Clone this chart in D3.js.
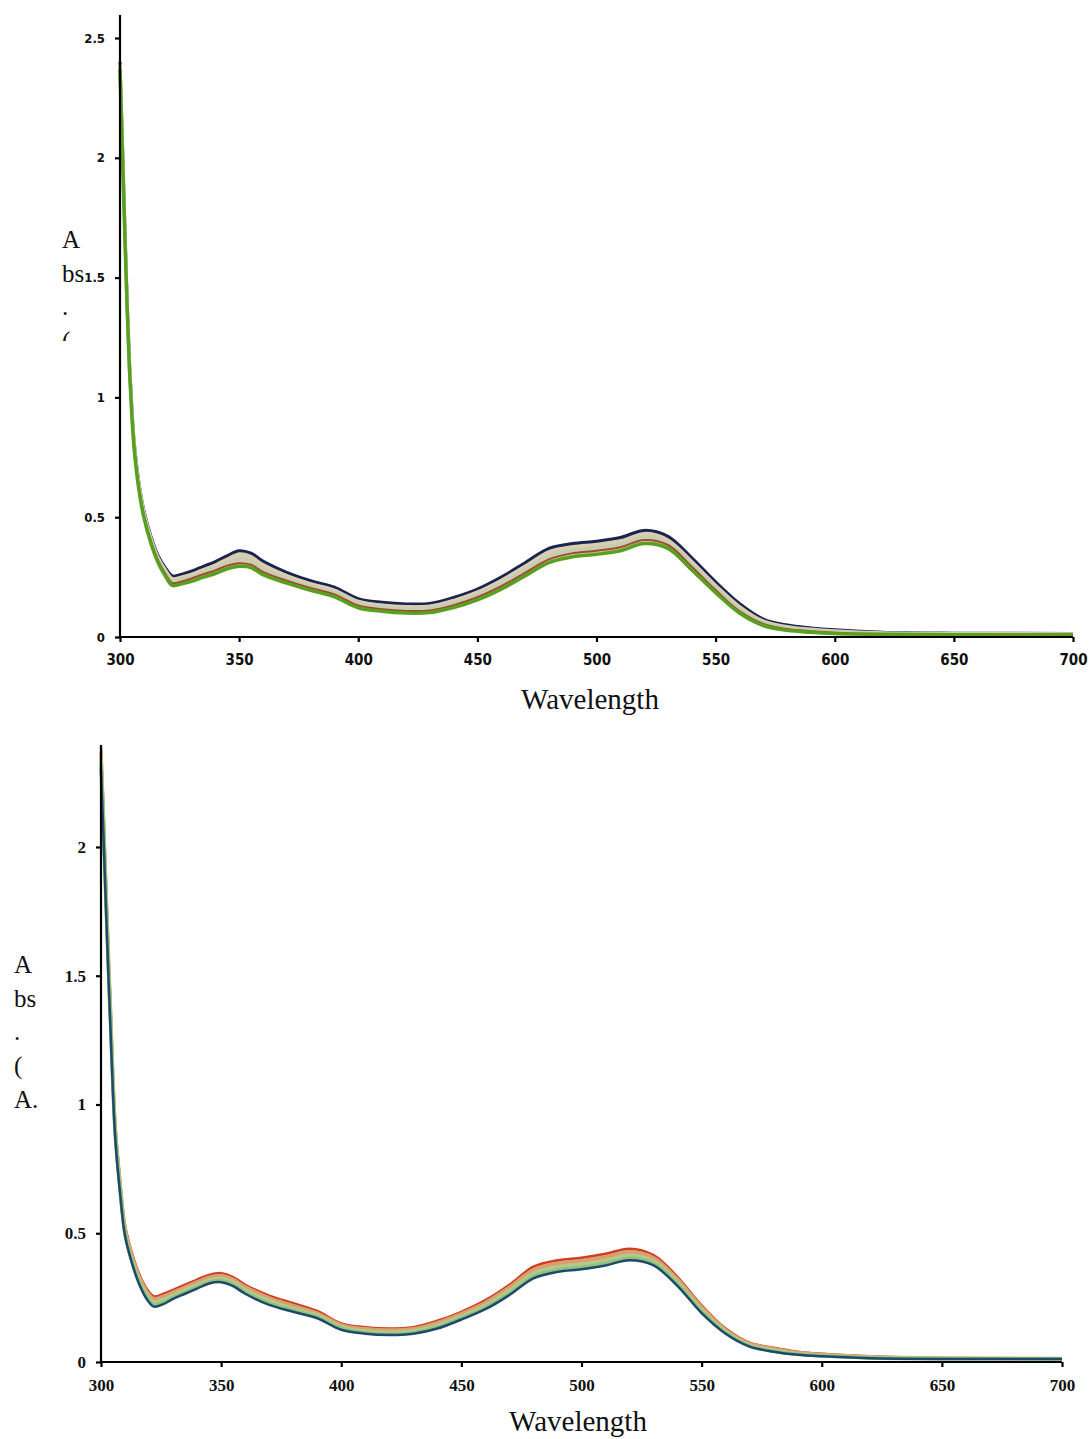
<!DOCTYPE html>
<html>
<head>
<meta charset="utf-8">
<script src="https://cdn.jsdelivr.net/npm/d3@7"></script>
<style>
  body { margin: 0; background: #fff; }
  svg { display: block; }
</style>
</head>
<body>
<div id="chart"></div>
<script>
// wavelength grid shared by all spectra (nm)
var wl = [300,301,302,303,304,305,306,308,310,313,316,319,322,326,330,335,340,345,350,355,360,370,380,390,400,410,420,430,440,450,460,470,480,490,500,510,520,530,540,550,560,570,580,590,600,620,650,700];

// top panel spectra, upper edge to lower edge
var tDark = [2.40,2.06,1.72,1.40,1.14,0.95,0.81,0.64,0.53,0.42,0.34,0.29,0.255,0.262,0.275,0.295,0.315,0.34,0.36,0.35,0.317,0.27,0.235,0.208,0.16,0.145,0.138,0.14,0.165,0.20,0.25,0.31,0.37,0.39,0.40,0.415,0.445,0.42,0.33,0.23,0.14,0.075,0.05,0.038,0.03,0.02,0.016,0.015];
var tTan = [2.39,2.05,1.71,1.39,1.13,0.94,0.80,0.63,0.52,0.41,0.33,0.28,0.243,0.25,0.26,0.28,0.298,0.322,0.34,0.332,0.298,0.255,0.222,0.195,0.148,0.133,0.126,0.128,0.152,0.187,0.236,0.294,0.352,0.373,0.383,0.397,0.427,0.403,0.314,0.215,0.127,0.066,0.043,0.032,0.025,0.017,0.014,0.013];
var tGray = [2.385,2.045,1.705,1.385,1.125,0.935,0.795,0.625,0.515,0.405,0.325,0.272,0.234,0.241,0.252,0.271,0.288,0.31,0.324,0.317,0.285,0.245,0.213,0.186,0.14,0.124,0.117,0.12,0.142,0.176,0.224,0.281,0.338,0.361,0.371,0.386,0.416,0.393,0.303,0.205,0.117,0.06,0.038,0.028,0.021,0.015,0.012,0.011];
var tRed = [2.38,2.04,1.70,1.38,1.12,0.93,0.79,0.62,0.51,0.40,0.32,0.265,0.225,0.232,0.244,0.262,0.278,0.298,0.308,0.302,0.272,0.235,0.205,0.178,0.132,0.116,0.109,0.111,0.133,0.166,0.212,0.268,0.324,0.35,0.36,0.375,0.405,0.384,0.293,0.196,0.108,0.055,0.033,0.024,0.018,0.013,0.011,0.01];
var tGreen = [2.37,2.03,1.69,1.37,1.11,0.92,0.78,0.61,0.50,0.39,0.31,0.255,0.215,0.222,0.232,0.25,0.265,0.285,0.295,0.29,0.26,0.225,0.195,0.168,0.122,0.107,0.10,0.102,0.123,0.155,0.20,0.255,0.31,0.335,0.345,0.36,0.39,0.37,0.28,0.185,0.10,0.048,0.028,0.02,0.015,0.011,0.009,0.008];

// bottom panel spectra, upper edge to lower edge
var bRed = [2.39,2.15,1.88,1.62,1.38,1.12,0.92,0.70,0.53,0.42,0.34,0.285,0.255,0.265,0.28,0.30,0.32,0.338,0.345,0.33,0.30,0.258,0.228,0.198,0.15,0.135,0.13,0.135,0.16,0.195,0.24,0.30,0.37,0.395,0.405,0.42,0.44,0.415,0.33,0.22,0.13,0.075,0.055,0.04,0.032,0.022,0.016,0.015];
var bOrange = [2.37,2.13,1.86,1.60,1.36,1.10,0.90,0.69,0.52,0.41,0.33,0.276,0.246,0.256,0.271,0.291,0.311,0.329,0.336,0.321,0.292,0.249,0.219,0.19,0.144,0.129,0.124,0.129,0.153,0.188,0.231,0.29,0.358,0.383,0.393,0.408,0.428,0.405,0.321,0.213,0.125,0.072,0.052,0.037,0.03,0.02,0.015,0.014];
var bKhaki = [2.35,2.10,1.83,1.57,1.33,1.08,0.89,0.675,0.505,0.395,0.315,0.262,0.232,0.242,0.26,0.28,0.30,0.318,0.325,0.31,0.28,0.238,0.208,0.182,0.136,0.12,0.115,0.12,0.143,0.178,0.22,0.277,0.343,0.368,0.378,0.393,0.413,0.392,0.31,0.203,0.118,0.066,0.046,0.033,0.026,0.018,0.014,0.013];
var bGreen = [2.32,2.07,1.80,1.54,1.30,1.06,0.87,0.66,0.497,0.387,0.307,0.252,0.222,0.232,0.251,0.271,0.291,0.31,0.316,0.301,0.271,0.229,0.2,0.175,0.13,0.114,0.109,0.114,0.135,0.17,0.211,0.267,0.333,0.358,0.368,0.383,0.403,0.383,0.302,0.196,0.113,0.062,0.042,0.03,0.024,0.016,0.013,0.012];
var bBlue = [2.30,2.05,1.78,1.52,1.28,1.04,0.86,0.65,0.49,0.38,0.30,0.245,0.215,0.225,0.245,0.265,0.285,0.305,0.31,0.295,0.265,0.222,0.195,0.17,0.125,0.11,0.105,0.11,0.13,0.165,0.205,0.26,0.325,0.35,0.36,0.375,0.395,0.375,0.295,0.19,0.11,0.06,0.04,0.028,0.022,0.015,0.012,0.012];

var xTicks = [300,350,400,450,500,550,600,650,700];
var topYTicks = [0,0.5,1,1.5,2,2.5];
var botYTicks = [0,0.5,1,1.5,2];
var xTitle = 'Wavelength';
var topYTitle = ['A', 'bs', '.', '('];
var botYTitle = ['A', 'bs', '.', '(', 'A.'];

var W = 1089, H = 1439;
var svg = d3.select('#chart').append('svg')
  .attr('width', W)
  .attr('height', H)
  .attr('viewBox', '0 0 ' + W + ' ' + H);

function zip(vals) {
  return wl.map(function(w, i) { return [w, vals[i]]; });
}

function drawPanel(o) {
  var x = d3.scaleLinear().domain([300, 700]).range([o.left, o.right]);
  var y = d3.scaleLinear().domain([0, o.yMax]).range([o.bottom, o.top]);
  var curve = d3.curveCatmullRom.alpha(0.5);

  var g = svg.append('g');

  // light band between upper and lower spectra
  var lower = o.series[o.series.length - 1].v;
  var band = d3.area()
    .x(function(d) { return x(d[0]); })
    .y0(function(d, i) { return y(lower[i]); })
    .y1(function(d) { return y(d[1]); })
    .curve(curve);
  g.append('path')
    .attr('d', band(zip(o.series[0].v)))
    .attr('fill', o.bandFill);

  var line = d3.line()
    .x(function(d) { return x(d[0]); })
    .y(function(d) { return y(d[1]); })
    .curve(curve);

  o.series.forEach(function(s) {
    g.append('path')
      .attr('d', line(zip(s.v)))
      .attr('fill', 'none')
      .attr('stroke', s.c)
      .attr('stroke-width', s.w)
      .attr('stroke-linejoin', 'round');
  });

  var yAxis = d3.axisLeft(y).tickValues(o.yTicks).tickSize(5).tickSizeOuter(0).tickPadding(o.yPad)
    .tickFormat(function(d) { return d; });
  var ya = svg.append('g').attr('transform', 'translate(' + o.left + ',0)').call(yAxis);
  ya.select('.domain').attr('stroke', '#000').attr('stroke-width', 2.2)
    .attr('d', 'M0,' + o.top + 'V' + o.bottom);
  ya.selectAll('.tick line').attr('stroke', '#000').attr('stroke-width', 2.2);
  ya.selectAll('.tick text')
    .attr('fill', '#111')
    .attr('font-family', o.tickFont)
    .attr('font-weight', 'bold')
    .attr('font-size', o.yTickSize);

  var xAxis = d3.axisBottom(x).tickValues(xTicks).tickSize(5).tickSizeOuter(0).tickPadding(o.xPad);
  var xa = svg.append('g').attr('transform', 'translate(0,' + o.bottom + ')').call(xAxis);
  xa.select('.domain').attr('stroke', '#000').attr('stroke-width', 2.2)
    .attr('d', 'M' + o.left + ',0H' + o.right);
  xa.selectAll('.tick line').attr('stroke', '#000').attr('stroke-width', 2.2);
  xa.selectAll('.tick text')
    .attr('fill', '#111')
    .attr('font-family', o.tickFont)
    .attr('font-weight', o.xWeight)
    .attr('font-size', o.xTickSize);

  svg.append('text')
    .attr('x', o.titleX)
    .attr('y', o.titleY)
    .attr('text-anchor', 'middle')
    .attr('font-family', 'Liberation Serif, Times New Roman, serif')
    .attr('font-size', 29)
    .attr('fill', '#111')
    .text(xTitle);

  var yt = svg.append('g');
  if (o.clipId) {
    svg.append('clipPath').attr('id', o.clipId)
      .append('rect').attr('x', 0).attr('y', 0).attr('width', 200).attr('height', o.clipY);
    yt.attr('clip-path', 'url(#' + o.clipId + ')');
  }
  o.yTitle.forEach(function(t, i) {
    yt.append('text')
      .attr('x', o.yTitleX)
      .attr('y', o.yTitleY + i * 33.7)
      .attr('font-family', 'Liberation Serif, Times New Roman, serif')
      .attr('font-size', 25)
      .attr('fill', '#111')
      .text(t);
  });
}

drawPanel({
  left: 120, right: 1073, top: 15, bottom: 637, yMax: 2.596,
  yTicks: topYTicks, yPad: 10, xPad: 12,
  tickFont: 'DejaVu Sans Condensed, sans-serif', yTickSize: 13, xTickSize: 15, xWeight: 'bold',
  bandFill: '#d3cfad',
  series: [
    { v: tDark, c: '#1b2450', w: 3 },
    { v: tTan, c: '#d9cfae', w: 3.5 },
    { v: tGray, c: '#c8ccb4', w: 3.5 },
    { v: tRed, c: '#a24a2c', w: 2 },
    { v: tGreen, c: '#58a020', w: 3.5 }
  ],
  titleX: 590, titleY: 709,
  yTitle: topYTitle, yTitleX: 62, yTitleY: 248, clipId: 'clipTop', clipY: 341
});

drawPanel({
  left: 101, right: 1062, top: 745, bottom: 1362, yMax: 2.396,
  yTicks: botYTicks, yPad: 10, xPad: 12,
  tickFont: 'Liberation Serif, Times New Roman, serif', yTickSize: 17, xTickSize: 17, xWeight: 'bold',
  bandFill: '#b9c98f',
  series: [
    { v: bRed, c: '#d23c20', w: 2.5 },
    { v: bOrange, c: '#d8a070', w: 3.5 },
    { v: bKhaki, c: '#b7c98a', w: 3.5 },
    { v: bGreen, c: '#8fc27e', w: 3.5 },
    { v: bBlue, c: '#1d4a6a', w: 2.5 }
  ],
  titleX: 578, titleY: 1431,
  yTitle: botYTitle, yTitleX: 14, yTitleY: 973
});
</script>
</body>
</html>
